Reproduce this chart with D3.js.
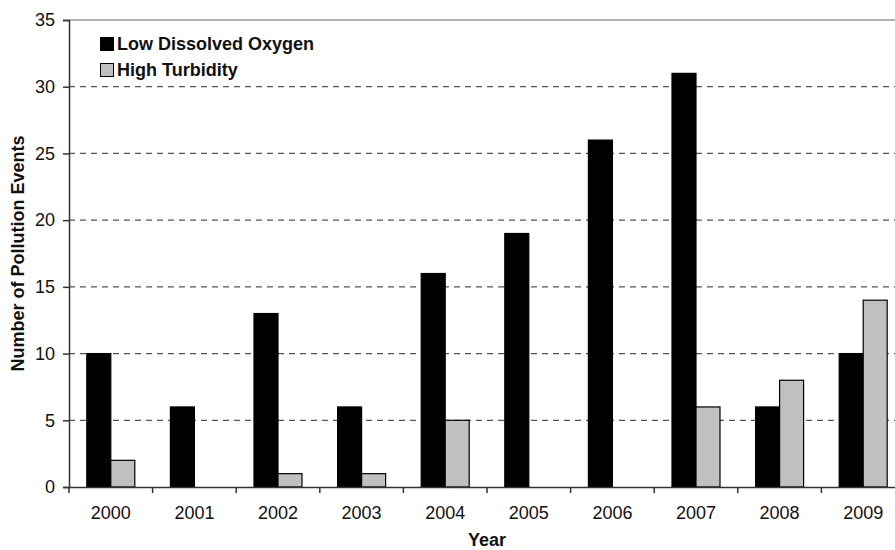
<!DOCTYPE html>
<html><head><meta charset="utf-8">
<script src="https://cdn.jsdelivr.net/npm/d3@7"></script>
<style>body{margin:0;background:#fff;} svg{display:block;font-family:"Liberation Sans",Arial,sans-serif;}</style>
</head><body>
<script>
const years = ["2000","2001","2002","2003","2004","2005","2006","2007","2008","2009"];
const lowDO = [10,6,13,6,16,19,26,31,6,10];
const highTurb = [2,0,1,1,5,0,0,6,8,14];
const seriesNames = ["Low Dissolved Oxygen","High Turbidity"];
const seriesColors = ["#000000","#c0c0c0"];
const yTicks = [0,5,10,15,20,25,30,35];

const W=895,H=550;
const m={left:69,top:20,right:-10,bottom:63};
const svg=d3.select("body").append("svg").attr("width",W).attr("height",H);
const x=d3.scaleBand().domain(years).range([m.left,W-m.right]).paddingInner(0).paddingOuter(0);
const y=d3.scaleLinear().domain([0,35]).range([H-m.bottom,m.top]);
const bw=24;

// grid
svg.append("g").selectAll("line").data(yTicks.filter(d=>d>0&&d<35)).join("line")
 .attr("x1",m.left).attr("x2",W-m.right).attr("y1",d=>y(d)).attr("y2",d=>y(d))
 .attr("stroke","#555").attr("stroke-width",1.2).attr("stroke-dasharray","6,5");
svg.append("line").attr("x1",m.left).attr("x2",W-m.right).attr("y1",y(35)).attr("y2",y(35))
 .attr("stroke","#999").attr("stroke-width",1.5);

const series=[lowDO,highTurb];
series.forEach((vals,si)=>{
  svg.append("g").selectAll("rect").data(vals.map((v,i)=>({v,yr:years[i]})).filter(d=>d.v>0)).join("rect")
   .attr("x",d=>x(d.yr)+x.bandwidth()/2-bw+si*bw)
   .attr("y",d=>y(d.v)).attr("width",bw).attr("height",d=>y(0)-y(d.v))
   .attr("fill",seriesColors[si]).attr("stroke","#000").attr("stroke-width",1.2);
});

// axes
const xa=svg.append("g").attr("transform",`translate(0,${y(0)})`)
 .call(d3.axisBottom(x).tickSize(0).tickPadding(19));
xa.select(".domain").attr("stroke","#333").attr("stroke-width",1.5);
xa.selectAll("text").attr("font-size",18).attr("fill","#111").attr("font-family","Liberation Sans, Arial, sans-serif");
// boundary ticks
const bounds=years.map(d=>x(d)).concat([x(years[years.length-1])+x.bandwidth()]);
svg.append("g").selectAll("line").data(bounds).join("line")
 .attr("x1",d=>d).attr("x2",d=>d).attr("y1",y(0)).attr("y2",y(0)+6)
 .attr("stroke","#333").attr("stroke-width",1.5);

const ya=svg.append("g").attr("transform",`translate(${m.left},0)`)
 .call(d3.axisLeft(y).tickValues(yTicks).tickSize(6).tickPadding(8));
ya.select(".domain").attr("stroke","#333").attr("stroke-width",1.5);
ya.selectAll(".tick line").attr("stroke","#333").attr("stroke-width",1.5);
ya.selectAll("text").attr("font-size",18).attr("fill","#111").attr("font-family","Liberation Sans, Arial, sans-serif");

// titles
svg.append("text").attr("x",(m.left+W-m.right)/2).attr("y",546).attr("text-anchor","middle")
 .attr("font-weight","bold").attr("font-size",18).attr("fill","#111").text("Year");
svg.append("text").attr("transform",`translate(23.5,${(y(0)+y(35))/2}) rotate(-90)`).attr("text-anchor","middle")
 .attr("font-weight","bold").attr("font-size",18).attr("fill","#111").text("Number of Pollution Events");

// legend
const lg=svg.append("g");
seriesNames.forEach((n,i)=>{
  lg.append("rect").attr("x",100.5).attr("y",37.5+i*26).attr("width",13).attr("height",13)
   .attr("fill",seriesColors[i]).attr("stroke","#000").attr("stroke-width",1);
  lg.append("text").attr("x",117).attr("y",50+i*26).attr("font-weight","bold").attr("font-size",18)
   .attr("fill","#111").text(n);
});
</script>
</body></html>
